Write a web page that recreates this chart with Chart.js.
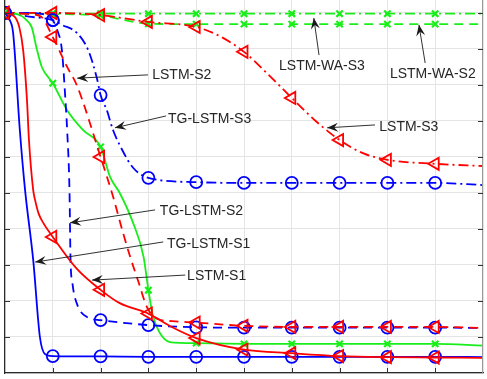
<!DOCTYPE html>
<html>
<head>
<meta charset="utf-8">
<script src="https://cdn.jsdelivr.net/npm/chart.js@4.4.0/dist/chart.umd.min.js"></script>
<style>
  html, body { margin: 0; padding: 0; background: #fff; overflow: hidden; }
</style>
</head>
<body>
<canvas id="chart" width="487" height="379"></canvas>
<script>
// ===============================
// Datos
// ===============================
const tgS1X = [0, 0.1, 0.17, 0.31, 0.42, 0.59, 0.73, 0.84, 1, 2, 3, 4, 5, 6, 7, 8, 9, 10];
const tgS1Y = [10, 9.8, 9.44, 6.75, 5.08, 3.14, 1.0, 0.52, 0.47, 0.46, 0.45, 0.45, 0.45, 0.45, 0.45, 0.45, 0.45, 0.44];

const lstmS1X = [0, 0.2, 0.3, 0.38, 0.46, 0.5, 0.59, 0.63, 0.7, 0.8, 1, 1.5, 2, 2.4, 3, 3.5, 4, 5, 6, 7, 8, 9, 10];
const lstmS1Y = [10, 9.9, 9.6, 8.97, 7.58, 6.5, 5.08, 4.8, 4.44, 4.17, 3.78, 2.9, 2.31, 1.94, 1.65, 1.27, 0.97, 0.65, 0.55, 0.47, 0.44, 0.43, 0.42];

const tgS2X = [0, 0.5, 0.85, 1, 1.1, 1.19, 1.26, 1.3, 1.35, 1.37, 1.41, 1.5, 1.72, 2, 3, 4, 5, 6, 7, 8, 9, 10];
const tgS2Y = [10, 10, 9.95, 9.8, 9.5, 8.97, 7.67, 6.75, 5.0, 3.2, 2.5, 1.94, 1.55, 1.47, 1.33, 1.27, 1.26, 1.26, 1.26, 1.26, 1.26, 1.25];

const lstmS2X = [0, 0.5, 0.75, 1, 1.3, 1.5, 2, 2.26, 2.47, 2.62, 2.8, 2.97, 3.2, 3.5, 4, 5, 6, 7, 8, 9, 10];
const lstmS2Y = [10, 9.97, 9.9, 9.33, 8.5, 8.0, 6.0, 4.9, 3.89, 3.22, 2.5, 1.83, 1.5, 1.44, 1.4, 1.31, 1.28, 1.28, 1.28, 1.28, 1.25];

const waS1X = [0, 0.3, 0.45, 0.56, 0.67, 0.77, 1, 1.3, 1.63, 2, 2.2, 2.4, 2.68, 2.9, 3, 3.1, 3.24, 3.45, 4, 5, 6, 7, 8, 9, 10];
const waS1Y = [10, 9.95, 9.8, 9.6, 8.97, 8.5, 8.05, 7.3, 6.75, 6.28, 5.44, 5.0, 4.17, 3.22, 2.3, 1.56, 1.11, 0.86, 0.83, 0.81, 0.81, 0.81, 0.81, 0.81, 0.76];

const tgS3X = [0, 0.5, 1, 1.19, 1.51, 1.74, 1.92, 2, 2.13, 2.26, 2.45, 2.68, 3, 4, 5, 6, 7, 8, 9, 10];
const tgS3Y = [10, 9.9, 9.8, 9.67, 9.44, 8.97, 8.2, 7.72, 7.3, 6.75, 6.2, 5.7, 5.42, 5.3, 5.28, 5.28, 5.28, 5.28, 5.28, 5.22];

const lstmS3X = [0, 1, 2, 3, 4, 4.5, 5, 5.5, 6, 6.5, 7, 7.5, 8, 9, 10];
const lstmS3Y = [10, 10, 9.94, 9.75, 9.61, 9.35, 8.92, 8.3, 7.64, 7.0, 6.47, 6.1, 5.92, 5.81, 5.75];

const waS3X = [0, 1, 2, 3, 4, 5, 6, 7, 8, 9, 10];
const waS3Y = [10, 9.99, 9.98, 9.98, 9.98, 9.98, 9.98, 9.98, 9.98, 9.98, 9.98];

const waS2X = [0, 1, 2, 2.5, 3, 4, 5, 6, 7, 8, 9, 10];
const waS2Y = [10, 9.97, 9.93, 9.8, 9.7, 9.69, 9.69, 9.69, 9.69, 9.69, 9.69, 9.69];

// textos de las anotaciones
const noteText = ['LSTM-S2', 'TG-LSTM-S3', 'LSTM-WA-S3', 'LSTM-WA-S2', 'LSTM-S3', 'TG-LSTM-S2', 'TG-LSTM-S1', 'LSTM-S1'];

// posiciones de las anotaciones (unidades de datos): texto, cola y punta de la flecha
const noteLayout = [
    { tx: 3.08, ty: 8.28, align: 'left',   fx: 2.99, fy: 8.28, hx: 1.51, hy: 8.19 },
    { tx: 3.41, ty: 7.06, align: 'left',   fx: 3.37, fy: 7.14, hx: 2.30, hy: 6.81 },
    { tx: 6.63, ty: 8.53, align: 'center', fx: 6.57, fy: 8.83, hx: 6.46, hy: 9.86 },
    { tx: 8.95, ty: 8.31, align: 'center', fx: 8.79, fy: 8.61, hx: 8.66, hy: 9.67 },
    { tx: 7.83, ty: 6.83, align: 'left',   fx: 7.74, fy: 6.89, hx: 6.74, hy: 6.81 },
    { tx: 3.24, ty: 4.50, align: 'left',   fx: 3.14, fy: 4.53, hx: 1.36, hy: 4.17 },
    { tx: 3.39, ty: 3.58, align: 'left',   fx: 3.31, fy: 3.64, hx: 0.63, hy: 3.08 },
    { tx: 3.81, ty: 2.69, align: 'left',   fx: 3.77, fy: 2.72, hx: 1.82, hy: 2.58 }
];

// ===============================
// Estilos
// ===============================
const BLUE = '#0000ff';
const RED = '#ff0000';
const GREEN = '#1aee1a';
const DASH = [9, 6];
const DASHDOT = [10, 4, 2, 4];

const markerSize = { circle: 6, triangle: 7, crossRot: 4.5 };

function toPoints(xs, ys) {
    return xs.map((x, i) => ({ x: x, y: ys[i] }));
}

function series(label, xs, ys, color, dash, marker) {
    const r = markerSize[marker];
    return {
        label: label,
        data: toPoints(xs, ys),
        borderColor: color,
        borderWidth: 1.8,
        borderDash: dash,
        backgroundColor: color,
        cubicInterpolationMode: 'monotone',
        pointStyle: marker,
        pointRotation: marker === 'triangle' ? 270 : 0,
        pointBorderColor: color,
        pointBackgroundColor: 'rgba(0,0,0,0)',
        pointBorderWidth: marker === 'crossRot' ? 2.2 : 1.8,
        pointRadius: ctx => {
            const x = ctx.raw ? ctx.raw.x : null;
            return (Number.isInteger(x) && x < 10) ? r : 0;
        },
        pointHoverRadius: 0
    };
}

// ===============================
// Plugins: ticks internos, borde derecho y anotaciones
// ===============================
const framePlugin = {
    id: 'frame',
    afterDraw(chart) {
        const { ctx, chartArea: a, scales: { x, y } } = chart;
        ctx.save();
        ctx.strokeStyle = '#9a9a9a';
        ctx.lineWidth = 1;
        ctx.beginPath();
        ctx.moveTo(a.right - 0.5, a.top);
        ctx.lineTo(a.right - 0.5, a.bottom);
        ctx.stroke();

        ctx.strokeStyle = '#333';
        ctx.beginPath();
        for (let v = 1; v <= 10; v++) {
            const py = Math.round(y.getPixelForValue(v)) + 0.5;
            ctx.moveTo(a.left, py); ctx.lineTo(a.left + 5, py);
            ctx.moveTo(a.right, py); ctx.lineTo(a.right - 5, py);
        }
        for (let v = 1; v < 10; v++) {
            const px = Math.round(x.getPixelForValue(v)) + 0.5;
            ctx.moveTo(px, a.bottom); ctx.lineTo(px, a.bottom - 5);
        }
        ctx.stroke();
        ctx.restore();
    }
};

function arrowHead(ctx, fx, fy, hx, hy) {
    const ang = Math.atan2(hy - fy, hx - fx);
    const len = 11, half = 4.5, back = 7;
    ctx.save();
    ctx.translate(hx, hy);
    ctx.rotate(ang);
    ctx.beginPath();
    ctx.moveTo(0, 0);
    ctx.lineTo(-len, -half);
    ctx.lineTo(-back, 0);
    ctx.lineTo(-len, half);
    ctx.closePath();
    ctx.fill();
    ctx.restore();
}

const notesPlugin = {
    id: 'notes',
    afterDraw(chart) {
        const { ctx, scales: { x, y } } = chart;
        ctx.save();
        ctx.font = '14px "Liberation Sans", Arial, sans-serif';
        ctx.textBaseline = 'middle';
        noteText.forEach((t, i) => {
            const n = noteLayout[i];
            const fx = x.getPixelForValue(n.fx), fy = y.getPixelForValue(n.fy);
            const hx = x.getPixelForValue(n.hx), hy = y.getPixelForValue(n.hy);
            ctx.strokeStyle = '#1a1a1a';
            ctx.fillStyle = '#1a1a1a';
            ctx.lineWidth = 0.9;
            ctx.beginPath();
            ctx.moveTo(fx, fy);
            ctx.lineTo(hx, hy);
            ctx.stroke();
            arrowHead(ctx, fx, fy, hx, hy);
            ctx.fillStyle = '#262626';
            ctx.textAlign = n.align;
            ctx.fillText(t, x.getPixelForValue(n.tx), y.getPixelForValue(n.ty));
        });
        ctx.restore();
    }
};

// ===============================
// Grafico
// ===============================
new Chart(document.getElementById('chart'), {
    type: 'line',
    data: {
        datasets: [
            series('LSTM-S1', lstmS1X, lstmS1Y, RED, [], 'triangle'),
            series('TG-LSTM-S1', tgS1X, tgS1Y, BLUE, [], 'circle'),
            series('LSTM-S2', lstmS2X, lstmS2Y, RED, DASH, 'triangle'),
            series('TG-LSTM-S2', tgS2X, tgS2Y, BLUE, DASH, 'circle'),
            series('LSTM-WA-S1', waS1X, waS1Y, GREEN, [], 'crossRot'),
            series('LSTM-S3', lstmS3X, lstmS3Y, RED, DASHDOT, 'triangle'),
            series('TG-LSTM-S3', tgS3X, tgS3Y, BLUE, DASHDOT, 'circle'),
            series('LSTM-WA-S3', waS3X, waS3Y, GREEN, DASHDOT, 'crossRot'),
            series('LSTM-WA-S2', waS2X, waS2Y, GREEN, DASH, 'crossRot')
        ]
    },
    options: {
        responsive: false,
        animation: false,
        devicePixelRatio: 1,
        layout: { autoPadding: false, padding: { left: 5, right: 4, top: 0, bottom: 6 } },
        plugins: {
            legend: { display: false },
            tooltip: { enabled: false }
        },
        scales: {
            x: {
                type: 'linear',
                min: 0,
                max: 10,
                ticks: { display: false, stepSize: 1 },
                grid: { color: '#e4e4e4', drawTicks: false },
                border: { display: true, color: '#2a2a2a', width: 1.2 }
            },
            y: {
                type: 'linear',
                min: 0,
                max: 10.36,
                ticks: { display: false, stepSize: 1, includeBounds: false },
                grid: { color: '#e4e4e4', drawTicks: false },
                border: { display: true, color: '#2a2a2a', width: 1.2 }
            }
        }
    },
    plugins: [framePlugin, notesPlugin]
});
</script>
</body>
</html>
